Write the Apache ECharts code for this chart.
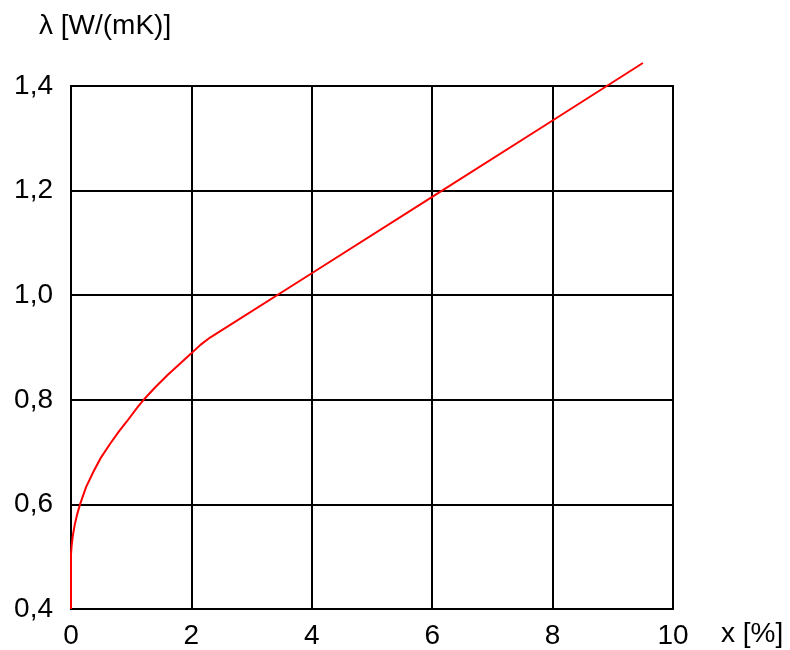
<!DOCTYPE html>
<html>
<head>
<meta charset="utf-8">
<script src="https://cdn.jsdelivr.net/npm/echarts@6/dist/echarts.min.js"></script>
<style>
  html, body { margin: 0; padding: 0; background: #fff; }
  #chart { width: 790px; height: 650px; }
</style>
</head>
<body>
<div id="chart"></div>
<script>
// Moisture content x [%] and thermal conductivity λ [W/(mK)]
const moisture = [0, 0, 0.01, 0.03, 0.06, 0.1, 0.15, 0.25, 0.37, 0.5, 0.65, 0.8, 0.93, 1.1, 1.23, 1.4, 1.6, 1.8, 2.0, 2.15, 2.31, 4.0, 6.0, 8.0, 9.5];
const conductivity = [0.4, 0.505, 0.52, 0.54, 0.56, 0.58, 0.6, 0.633, 0.662, 0.69, 0.716, 0.74, 0.759, 0.785, 0.803, 0.824, 0.847, 0.868, 0.889, 0.905, 0.919, 1.042, 1.188, 1.334, 1.444];

const xTicks = [0, 2, 4, 6, 8, 10];
const yTicks = [0.4, 0.6, 0.8, 1.0, 1.2, 1.4];

const yLabel = 'λ [W/(mK)]';
const xLabel = 'x [%]';

const points = moisture.map((x, i) => [x, conductivity[i]]);
const fontFamily = '"Liberation Sans", Arial, sans-serif';

const chart = echarts.init(document.getElementById('chart'), null, { renderer: 'canvas' });
chart.setOption({
  animation: false,
  backgroundColor: '#ffffff',
  grid: { left: 71, right: 117, top: 86, bottom: 38, containLabel: false,
          show: true, borderColor: '#000', borderWidth: 2 },
  xAxis: {
    type: 'value', min: xTicks[0], max: xTicks[xTicks.length - 1], interval: 2,
    axisLine: { show: true, onZero: false, lineStyle: { color: '#000', width: 2 } },
    axisTick: { show: false },
    splitLine: { show: true, lineStyle: { color: '#000', width: 2 } },
    axisLabel: { color: '#000', fontSize: 28, fontFamily, margin: 13,
                 formatter: v => String(v) }
  },
  yAxis: {
    type: 'value', min: yTicks[0], max: yTicks[yTicks.length - 1], interval: 0.2,
    axisLine: { show: true, onZero: false, lineStyle: { color: '#000', width: 2 } },
    axisTick: { show: false },
    splitLine: { show: true, lineStyle: { color: '#000', width: 2 } },
    axisLabel: { color: '#000', fontSize: 28, fontFamily, margin: 18,
                 formatter: v => v.toFixed(1).replace('.', ',') }
  },
  graphic: [
    { type: 'text', left: 39, top: 12,
      style: { text: yLabel, fill: '#000', fontSize: 28, fontFamily } },
    { type: 'text', left: 721, top: 620,
      style: { text: xLabel, fill: '#000', fontSize: 28, fontFamily } }
  ],
  series: [{
    type: 'line',
    data: points,
    clip: false,
    smooth: false,
    showSymbol: false,
    lineStyle: { color: '#ff0000', width: 2 }
  }]
});
</script>
</body>
</html>
